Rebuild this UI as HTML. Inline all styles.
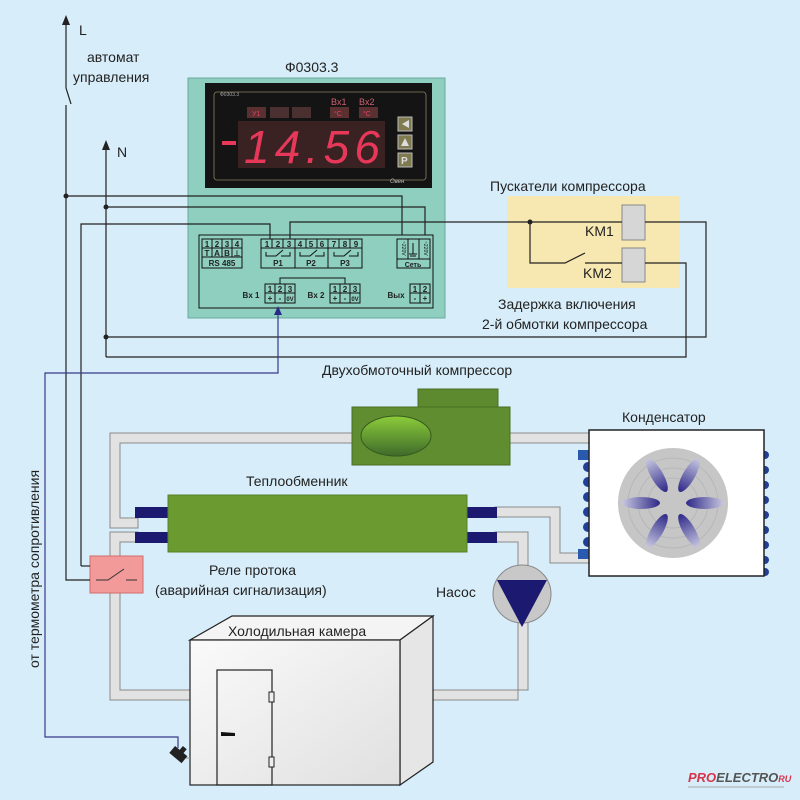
<!DOCTYPE html>
<html><head><meta charset="utf-8"><style>
html,body{margin:0;padding:0;background:#d7edf9}
svg{display:block}
text{font-family:"Liberation Sans",sans-serif;fill:#222}
</style></head><body>
<svg width="800" height="800" viewBox="0 0 800 800" xmlns="http://www.w3.org/2000/svg">
<defs>
<linearGradient id="ell" x1="0" y1="0" x2="0" y2="1"><stop offset="0" stop-color="#8ccc3a"/><stop offset="1" stop-color="#3f6a2a"/></linearGradient>
<linearGradient id="blade" x1="0" y1="0" x2="1" y2="0"><stop offset="0" stop-color="#2e2888"/><stop offset="1" stop-color="#c8c8e0"/></linearGradient>
<linearGradient id="box" x1="0" y1="0" x2="1" y2="1"><stop offset="0" stop-color="#fafafa"/><stop offset="1" stop-color="#e0e0e0"/></linearGradient>
</defs>
<rect width="800" height="800" fill="#d7edf9"/>

<!-- Pipes -->
<g fill="#e2e2e2" stroke="#8a8a8a" stroke-width="1">
<path d="M110 433 H356 V443 H120 V518 H138 V528 H110 Z"/>
<path d="M510 433 H592 V443 H510 Z"/>
<path d="M495 507 H560 V553 H592 V563 H550 V517 H495 Z"/>
<path d="M495 532 H528 V690 H430 V700 H518 V542 H495 Z"/>
<path d="M138 532 V542 H120 V690 H192 V700 H110 V532 Z"/>
</g>

<!-- compressor -->
<rect x="418" y="389" width="80" height="20" fill="#5d8a2e" stroke="#4a7024"/>
<rect x="352" y="407" width="158" height="58" fill="#5f8d2f" stroke="#4a7024"/>
<ellipse cx="396" cy="436" rx="35" ry="20" fill="url(#ell)" stroke="#355a20"/>

<!-- heat exchanger -->
<rect x="135" y="507" width="34" height="11" fill="#1c1a70"/>
<rect x="135" y="532" width="34" height="11" fill="#1c1a70"/>
<rect x="466" y="507" width="31" height="11" fill="#1c1a70"/>
<rect x="466" y="532" width="31" height="11" fill="#1c1a70"/>
<rect x="168" y="495" width="299" height="57" fill="#6a9a30" stroke="#58832a"/>

<!-- condenser -->
<g fill="#1f3f9a">
<circle cx="588" cy="467" r="5"/><circle cx="588" cy="482" r="5"/><circle cx="588" cy="497" r="5"/><circle cx="588" cy="512" r="5"/><circle cx="588" cy="527" r="5"/><circle cx="588" cy="542" r="5"/>
<circle cx="765" cy="455" r="4"/><circle cx="765" cy="470" r="4"/><circle cx="765" cy="485" r="4"/><circle cx="765" cy="500" r="4"/><circle cx="765" cy="515" r="4"/><circle cx="765" cy="530" r="4"/><circle cx="765" cy="545" r="4"/><circle cx="765" cy="560" r="4"/><circle cx="765" cy="572" r="4"/>
</g>
<rect x="578" y="450" width="12" height="10" fill="#2a5ab0"/>
<rect x="578" y="549" width="12" height="10" fill="#2a5ab0"/>
<rect x="589" y="430" width="175" height="146" fill="#fff" stroke="#222" stroke-width="1.5"/>
<circle cx="673" cy="503" r="55" fill="#c6c6c6"/>
<g fill="none" stroke="#b4b4b4" stroke-width="0.8"><circle cx="673" cy="503" r="45"/><circle cx="673" cy="503" r="35"/><circle cx="673" cy="503" r="25"/></g>
<g transform="translate(673 503)">
<ellipse cx="32" cy="0" rx="19" ry="6" fill="url(#blade)" transform="rotate(0)"/>
<ellipse cx="32" cy="0" rx="19" ry="6" fill="url(#blade)" transform="rotate(60)"/>
<ellipse cx="32" cy="0" rx="19" ry="6" fill="url(#blade)" transform="rotate(120)"/>
<ellipse cx="32" cy="0" rx="19" ry="6" fill="url(#blade)" transform="rotate(180)"/>
<ellipse cx="32" cy="0" rx="19" ry="6" fill="url(#blade)" transform="rotate(240)"/>
<ellipse cx="32" cy="0" rx="19" ry="6" fill="url(#blade)" transform="rotate(300)"/>
</g>

<!-- pump -->
<circle cx="522" cy="594" r="29" fill="#c8c8c8" stroke="#888"/>
<polygon points="497,580 547,580 522,627" fill="#1c1a70"/>

<!-- cold box -->
<polygon points="190,640 232,616 433,616 400,640" fill="#f4f4f4" stroke="#222" stroke-width="1.2"/>
<polygon points="400,640 433,616 433,762 400,785" fill="#e6e6e6" stroke="#222" stroke-width="1.2"/>
<rect x="190" y="640" width="210" height="145" fill="url(#box)" stroke="#222" stroke-width="1.2"/>
<rect x="217" y="670" width="55" height="115" fill="none" stroke="#222" stroke-width="1.2"/>
<rect x="269" y="692" width="5" height="10" fill="#eee" stroke="#222"/>
<rect x="269" y="757" width="5" height="10" fill="#eee" stroke="#222"/>
<polygon points="221,732 235,733 235,736 221,736" fill="#111"/>

<!-- relay -->
<rect x="90" y="556" width="53" height="37" fill="#f29a9a" stroke="#d06c6c"/>
<path d="M96 580 H108 L124 569 M126 580 H137" stroke="#333" stroke-width="1" fill="none"/>

<!-- panel -->
<rect x="188" y="78" width="257" height="240" fill="#8ecfbf" stroke="#6aaa9c"/>
<rect x="205" y="83" width="227" height="105" fill="#141414"/>
<rect x="214" y="92" width="212" height="88" rx="3" fill="none" stroke="#8a8060" stroke-width="0.8"/>
<text x="220" y="96" font-size="5" style="fill:#aaa">Ф0303.3</text>
<rect x="247" y="107" width="19" height="11" fill="#5a3030"/><text x="252" y="116" font-size="7" style="fill:#e0406a">У1</text>
<rect x="270" y="107" width="19" height="11" fill="#4a3030"/>
<rect x="292" y="107" width="19" height="11" fill="#4a3030"/>
<rect x="330" y="107" width="19" height="11" fill="#5a3030"/><text x="334" y="116" font-size="7" style="fill:#e0406a">°C</text>
<rect x="359" y="107" width="19" height="11" fill="#5a3030"/><text x="363" y="116" font-size="7" style="fill:#e0406a">°C</text>
<text x="331" y="105" font-size="9" style="fill:#d06070">Bx1</text>
<text x="359" y="105" font-size="9" style="fill:#d06070">Bx2</text>
<rect x="238" y="121" width="147" height="47" fill="#3a2222"/>
<rect x="222" y="141" width="14" height="4" fill="#e8385a"/>
<text x="244" y="163" font-size="46" font-style="italic" style="fill:#e8385a" textLength="136">14.56</text>
<rect x="398" y="117" width="14" height="14" fill="#807a50" stroke="#bbb"/><polygon points="402,124 409,120 409,128" fill="#ddd"/>
<rect x="398" y="135" width="14" height="14" fill="#807a50" stroke="#bbb"/><polygon points="405,138 409,146 401,146" fill="#ddd"/>
<rect x="398" y="153" width="14" height="14" fill="#807a50" stroke="#bbb"/><text x="401" y="164" font-size="10" font-weight="bold" style="fill:#ddd">P</text>
<text x="390" y="183" font-size="6" font-style="italic" style="fill:#bbb">Овен</text>

<!-- terminal block -->
<g fill="none" stroke="#111" stroke-width="1">
<rect x="199" y="235" width="234" height="73"/>
<rect x="202" y="239" width="40" height="29"/>
<path d="M202 248 H242 M202 257 H242 M212 239 V257 M222 239 V257 M232 239 V257"/>
<rect x="261" y="239" width="101" height="29"/>
<path d="M261 248 H362 M295 239 V268 M328 239 V268 M272 239 V248 M283 239 V248 M306 239 V248 M317 239 V248 M339 239 V248 M350 239 V248"/>
<path d="M266 252 V256 H276 L283 250 M281 256 H290 V252"/>
<path d="M300 252 V256 H310 L317 250 M315 256 H324 V252"/>
<path d="M334 252 V256 H344 L351 250 M349 256 H358 V252"/>
<rect x="397" y="239" width="33" height="29"/>
<path d="M397 259 H430 M408 239 V259 M419 239 V259 M413 243 V254 M409 254 H417 M410 256 H416"/>
<rect x="265" y="284" width="30" height="19"/>
<path d="M265 293 H295 M275 284 V303 M285 284 V303"/>
<rect x="330" y="284" width="30" height="19"/>
<path d="M330 293 H360 M340 284 V303 M350 284 V303"/>
<rect x="410" y="284" width="20" height="19"/>
<path d="M410 293 H430 M420 284 V303"/>
<path d="M280 284 V278 H345 V284"/>
</g>
<g font-size="8" font-weight="bold" text-anchor="middle" style="fill:#111">
<text x="207" y="247">1</text><text x="217" y="247">2</text><text x="227" y="247">3</text><text x="237" y="247">4</text>
<text x="207" y="256">T</text><text x="217" y="256">A</text><text x="227" y="256">B</text><text x="237" y="256">⊥</text>
<text x="222" y="266">RS 485</text>
<text x="267" y="247">1</text><text x="278" y="247">2</text><text x="289" y="247">3</text>
<text x="300" y="247">4</text><text x="311" y="247">5</text><text x="322" y="247">6</text>
<text x="334" y="247">7</text><text x="345" y="247">8</text><text x="356" y="247">9</text>
<text x="278" y="266">P1</text><text x="311" y="266">P2</text><text x="345" y="266">P3</text>
<text x="413" y="267" font-size="7">Сеть</text>
<text x="270" y="292">1</text><text x="280" y="292">2</text><text x="290" y="292">3</text>
<text x="270" y="301">+</text><text x="280" y="301">-</text><text x="290" y="301" font-size="6">0V</text>
<text x="335" y="292">1</text><text x="345" y="292">2</text><text x="355" y="292">3</text>
<text x="335" y="301">+</text><text x="345" y="301">-</text><text x="355" y="301" font-size="6">0V</text>
<text x="415" y="292">1</text><text x="425" y="292">2</text>
<text x="415" y="301">-</text><text x="425" y="301">+</text>
<text x="251" y="298">Bx 1</text><text x="316" y="298">Bx 2</text><text x="396" y="298">Вых</text>
</g>
<text x="402" y="241" font-size="5" transform="rotate(90 402 241)" style="fill:#111">~220V</text>
<text x="424" y="241" font-size="5" transform="rotate(90 424 241)" style="fill:#111">~220V</text>

<!-- starter box -->
<rect x="507" y="196" width="173" height="92" fill="#f7e7b0"/>
<rect x="622" y="205" width="23" height="35" fill="#d6d6d6" stroke="#888"/>
<rect x="622" y="248" width="23" height="34" fill="#d6d6d6" stroke="#888"/>

<!-- wires -->
<g fill="none" stroke="#222" stroke-width="1.2">
<path d="M66 105 V580 H90"/>
<path d="M66 88 V22"/><path d="M66 88 L71 104"/>
<path d="M106 357 V145"/>
<path d="M66 196 H402 V235"/>
<path d="M106 207 H425 V235"/>
<path d="M81 566 V224 H270 V239"/>
<path d="M81 566 H90"/>
<path d="M290 239 V222 H622 M645 222 H706 V337 H106"/>
<path d="M530 222 V263 H565 L585 253 M585 263 H622 M645 263 H686 V357 H106"/>
</g>
<g fill="#222"><circle cx="66" cy="196" r="2.5"/><circle cx="106" cy="207" r="2.5"/><circle cx="106" cy="337" r="2.5"/><circle cx="530" cy="222" r="2.5"/></g>
<polygon points="66,15 62,25 70,25" fill="#222"/>
<polygon points="106,140 102,150 110,150" fill="#222"/>
<path d="M278 312 V373 H45 V737 H178 V748" fill="none" stroke="#3a3a8a" stroke-width="1.2"/>
<polygon points="278,306 274,315 282,315" fill="#2a2a8a"/>
<g transform="rotate(40 178 755)"><rect x="170" y="750" width="16" height="9" fill="#222"/><rect x="176" y="745" width="5" height="6" fill="#222"/></g>
<path d="M186 758 H190" stroke="#999"/>

<!-- labels -->
<g font-size="14">
<text x="79" y="35">L</text>
<text x="87" y="62">автомат</text>
<text x="73" y="82">управления</text>
<text x="117" y="157">N</text>
<text x="285" y="72">Ф0303.3</text>
<text x="490" y="191">Пускатели компрессора</text>
<text x="585" y="236">KM1</text>
<text x="583" y="278">KM2</text>
<text x="498" y="309">Задержка включения</text>
<text x="482" y="329">2-й обмотки компрессора</text>
<text x="322" y="375">Двухобмоточный компрессор</text>
<text x="622" y="422">Конденсатор</text>
<text x="246" y="486">Теплообменник</text>
<text x="209" y="575">Реле протока</text>
<text x="155" y="595">(аварийная  сигнализация)</text>
<text x="436" y="597">Насос</text>
<text x="228" y="636">Холодильная камера</text>
<text x="39" y="668" transform="rotate(-90 39 668)">от термометра  сопротивления</text>
</g>
<text x="688" y="782" font-size="13" font-weight="bold" font-style="italic" style="fill:#d8344a">PRO<tspan style="fill:#555">ELECTRO</tspan><tspan font-size="9" style="fill:#d8344a">RU</tspan></text>
<rect x="688" y="786" width="96" height="2" fill="#c0c8d0"/>
</svg>
</body></html>
